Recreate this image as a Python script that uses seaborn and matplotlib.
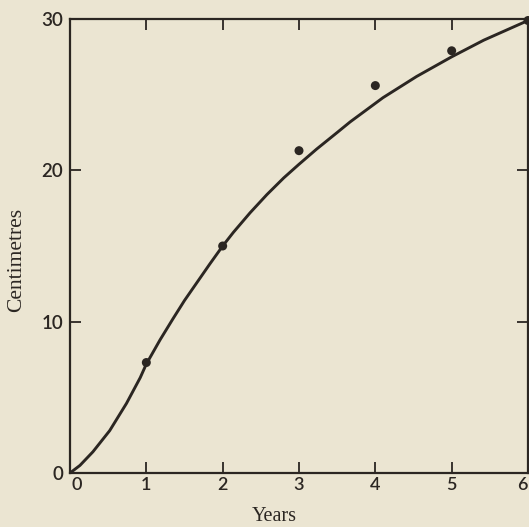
import matplotlib
matplotlib.use("Agg")
import matplotlib.pyplot as plt
import matplotlib.transforms as mtransforms
import pandas as pd
import seaborn as sns

# Measured growth (cm) at the end of each year
years = [1, 2, 3, 4, 5, 6]
length_cm = [7.3, 15.0, 21.3, 25.6, 27.9, 29.9]

# Fitted growth curve, sampled along its length
curve_years = [0.0, 0.13, 0.3, 0.52, 0.74, 0.92, 1.0, 1.18, 1.35, 1.5, 1.83,
               2.0, 2.14, 2.36, 2.58, 2.8, 3.0, 3.23, 3.5, 3.67, 4.1, 4.54,
               5.0, 5.42, 6.0]
curve_cm = [0.0, 0.5, 1.4, 2.8, 4.6, 6.3, 7.2, 8.8, 10.2, 11.4, 13.8,
            15.0, 15.9, 17.2, 18.4, 19.5, 20.4, 21.4, 22.5, 23.2, 24.8, 26.2,
            27.5, 28.6, 29.9]

x_ticks = [0, 1, 2, 3, 4, 5, 6]
y_ticks = [0, 10, 20, 30]

paper = "#ebe5d2"
ink = "#2b2622"

sns.set_theme(style="ticks")
plt.rcParams.update({
    "figure.facecolor": paper,
    "axes.facecolor": paper,
    "savefig.facecolor": paper,
    "axes.edgecolor": ink,
    "xtick.color": ink,
    "ytick.color": ink,
    "text.color": ink,
})

points = pd.DataFrame({"Years": years, "Centimetres": length_cm})
curve = pd.DataFrame({"Years": curve_years, "Centimetres": curve_cm})

W, H = 529, 527
fig = plt.figure(figsize=(W / 100, H / 100), dpi=100)
ax = fig.add_axes([70 / W, 1 - 473 / H, (528 - 70) / W, (473 - 19) / H])

sns.lineplot(data=curve, x="Years", y="Centimetres", ax=ax, color=ink,
             linewidth=2.1, sort=False)
sns.scatterplot(data=points, x="Years", y="Centimetres", ax=ax, color=ink,
                s=42, edgecolor="none", zorder=5, clip_on=False)

ax.set_xlim(0, 6)
ax.set_ylim(0, 30)
ax.set_xticks(x_ticks)
ax.set_yticks(y_ticks)
ax.set_xticklabels([str(v) for v in x_ticks], family="Lato", fontsize=13,
                   fontweight="semibold")
ax.set_yticklabels([str(v) for v in y_ticks], family="Lato", fontsize=13.5,
                   fontweight="semibold")
ax.tick_params(axis="both", which="both", direction="in", top=True,
               right=True, length=8, width=1.3)
ax.tick_params(axis="x", pad=3)
ax.tick_params(axis="y", pad=5)

# nudge the "0" under the origin to the right and the "6" at the far edge left
labels = ax.get_xticklabels()
for lab, dx in ((labels[0], 5), (labels[-1], -4)):
    lab.set_transform(lab.get_transform() +
                      mtransforms.ScaledTranslation(dx / 72, 0, fig.dpi_scale_trans))

for side in ["left", "right", "top", "bottom"]:
    ax.spines[side].set_visible(True)
    ax.spines[side].set_linewidth(1.6)

ax.set_xlabel("")
ax.set_ylabel("")
fig.text(274 / W, 1 - 507 / H, "Years", family="Liberation Serif",
         fontsize=14.5, ha="center", va="top")
fig.text(17 / W, 1 - 260 / H, "Centimetres", family="Liberation Serif",
         fontsize=15.5, ha="center", va="center", rotation=90)

fig.savefig("out.png", dpi=100)
